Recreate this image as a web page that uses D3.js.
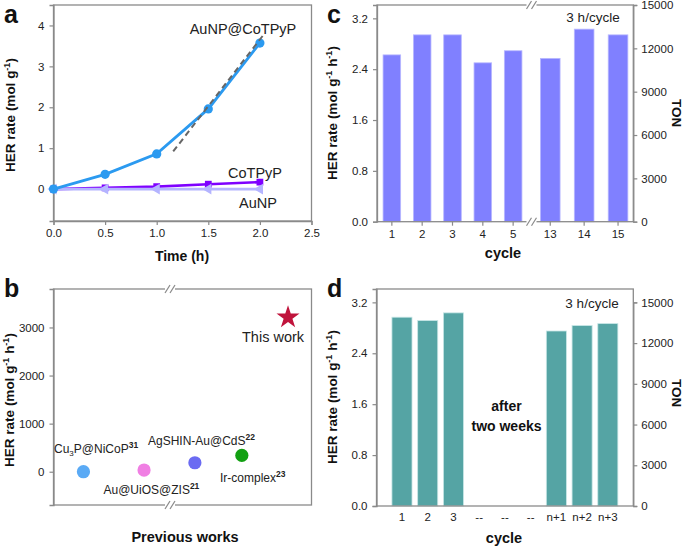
<!DOCTYPE html>
<html><head><meta charset="utf-8">
<script src="https://cdn.jsdelivr.net/npm/d3@7"></script>
<style>
body{margin:0;background:#fff}
svg{display:block}
text{font-family:"Liberation Sans",Arial,Helvetica,sans-serif}
</style>
</head><body>
<svg id="chart" width="685" height="546"></svg>
<script>
// ---------- DATA ----------
// Panel a
const timeH = [0, 0.5, 1.0, 1.5, 2.0];
const rateAuNPCoTPyP = [0, 0.36, 0.86, 1.96, 3.57];
const rateCoTPyP = [0, 0.03, 0.06, 0.12, 0.17];
const rateAuNP = [0, 0, 0, 0, 0];
const fitTime = [1.16, 2.05];
const fitRate = [0.92, 3.82];
const aTicksX = [0, 0.5, 1.0, 1.5, 2.0, 2.5];
const aTicksY = [0, 1, 2, 3, 4];
// Panel b
const worksNames = ["Cu3P@NiCoP", "Au@UiOS@ZIS", "AgSHIN-Au@CdS", "Ir-complex"];
const worksRefs = ["31", "21", "22", "23"];
const worksPos = [0.116, 0.351, 0.548, 0.730];
const worksRate = [0, 35, 187, 340];
const worksColors = ["#5aaaf5", "#f07fe3", "#6b6bf2", "#12a012"];
const thisWorkPos = 0.909;
const thisWorkRate = 3210;
const bTicksY = [0, 1000, 2000, 3000];
// Panel c
const cyclesC1 = ["1", "2", "3", "4", "5"];
const rateC1 = [2.625, 2.94, 2.94, 2.50, 2.69];
const cyclesC2 = ["13", "14", "15"];
const rateC2 = [2.57, 3.03, 2.94];
// Panel d
const cyclesD = ["1", "2", "3", "--", "--", "--", "n+1", "n+2", "n+3"];
const rateD = [2.967, 2.914, 3.035, null, null, null, 2.75, 2.835, 2.866];
// shared ticks
const rateTicks = [0, 0.8, 1.6, 2.4, 3.2];
const tonTicks = [0, 3000, 6000, 9000, 12000, 15000];

// ---------- HELPERS ----------
const svg = d3.select("#chart");
const AX = "#8a8a8a", TXT = "#222";

function styleAxis(g) {
  g.selectAll("path.domain").attr("stroke", AX).attr("stroke-width", 1.3);
  g.selectAll(".tick line").attr("stroke", AX).attr("stroke-width", 1.2);
  g.selectAll(".tick text").attr("fill", TXT).attr("font-size", 11.5)
    .attr("font-family", "Liberation Sans, Arial, sans-serif");
}
function frame(x0, y0, x1, y1) {
  svg.append("rect").attr("x", x0).attr("y", y0).attr("width", x1 - x0).attr("height", y1 - y0)
    .attr("fill", "none").attr("stroke", AX).attr("stroke-width", 1.3);
}
function breakMark(x, y) {
  svg.append("rect").attr("x", x - 5).attr("y", y - 2).attr("width", 10).attr("height", 4).attr("fill", "#fff");
  [-2.5, 2.5].forEach(o => {
    svg.append("line").attr("x1", x + o - 2.5).attr("y1", y + 4).attr("x2", x + o + 2.5).attr("y2", y - 4)
      .attr("stroke", AX).attr("stroke-width", 1.2);
  });
}
function panelLetter(t, x, y) {
  svg.append("text").attr("x", x).attr("y", y).attr("font-size", 25).attr("font-weight", "bold")
    .attr("fill", "#111").text(t);
}
function yLabel(x, y, withH) {
  const t = svg.append("text").attr("transform", `translate(${x},${y}) rotate(-90)`)
    .attr("text-anchor", "middle").attr("font-size", 13.5).attr("font-weight", "bold").attr("fill", "#111");
  t.append("tspan").text("HER rate (mol g");
  t.append("tspan").attr("dy", -5).attr("font-size", 9).text("-1");
  if (withH) {
    t.append("tspan").attr("dy", 5).text(" h");
    t.append("tspan").attr("dy", -5).attr("font-size", 9).text("-1");
  }
  t.append("tspan").attr("dy", 5).text(")");
}
function tonLabel(x, y) {
  svg.append("text").attr("transform", `translate(${x},${y}) rotate(90)`)
    .attr("text-anchor", "middle").attr("font-size", 13.5).attr("font-weight", "bold").attr("fill", "#111").text("TON");
}
function xTitle(t, x, y, fs) {
  svg.append("text").attr("x", x).attr("y", y).attr("text-anchor", "middle")
    .attr("font-size", fs || 14).attr("font-weight", "bold").attr("fill", "#111").text(t);
}
function note(t, x, y, fs, anchor) {
  return svg.append("text").attr("x", x).attr("y", y).attr("text-anchor", anchor || "middle")
    .attr("font-size", fs || 13).attr("fill", TXT).text(t);
}

// ---------- PANEL A ----------
{
  const L = 53.5, R = 311.5, T = 5, B = 221;
  const x = d3.scaleLinear().domain([0, 2.5]).range([L, R]);
  const y = d3.scaleLinear().domain([-0.78, 4.5]).range([B, T]);
  frame(L, T, R, B);
  const gx = svg.append("g").attr("transform", `translate(0,${B})`)
    .call(d3.axisBottom(x).tickValues(aTicksX).tickFormat(d3.format(".1f")).tickSize(4).tickPadding(4));
  styleAxis(gx);
  const gy = svg.append("g").attr("transform", `translate(${L},0)`)
    .call(d3.axisLeft(y).tickValues(aTicksY).tickFormat(d3.format("d")).tickSize(4).tickPadding(5));
  styleAxis(gy);

  const line = d3.line().x(d => x(d[0])).y(d => y(d[1]));
  const sAu = timeH.map((t, i) => [t, rateAuNP[i]]);
  const sCo = timeH.map((t, i) => [t, rateCoTPyP[i]]);
  const sAC = timeH.map((t, i) => [t, rateAuNPCoTPyP[i]]);

  svg.append("path").datum(sCo).attr("d", line).attr("fill", "none").attr("stroke", "#7f00ff").attr("stroke-width", 2.6);
  svg.selectAll(".sq").data(sCo).join("path").attr("class", "sq")
    .attr("transform", d => `translate(${x(d[0])},${y(d[1])})`)
    .attr("d", d3.symbol(d3.symbolSquare, 46)).attr("fill", "#7f00ff");

  svg.append("path").datum(sAu).attr("d", line).attr("fill", "none").attr("stroke", "#b4b4ff").attr("stroke-width", 2.6);
  svg.selectAll(".tri").data(sAu).join("path").attr("class", "tri")
    .attr("transform", d => `translate(${x(d[0])},${y(d[1])}) rotate(-90)`)
    .attr("d", d3.symbol(d3.symbolTriangle, 50)).attr("fill", "#b4b4ff");

  svg.append("path").datum(sAC).attr("d", line).attr("fill", "none").attr("stroke", "#2b9af0").attr("stroke-width", 2.8);
  svg.selectAll(".ci").data(sAC).join("circle").attr("class", "ci")
    .attr("cx", d => x(d[0])).attr("cy", d => y(d[1])).attr("r", 4.6).attr("fill", "#2b9af0");

  svg.append("line").attr("x1", x(fitTime[0])).attr("y1", y(fitRate[0]))
    .attr("x2", x(fitTime[1])).attr("y2", y(fitRate[1]))
    .attr("stroke", "#666").attr("stroke-width", 2).attr("stroke-dasharray", "6,4");

  note("AuNP@CoTPyP", 243, 34, 14.5);
  note("CoTPyP", 255, 178, 14.5);
  note("AuNP", 258, 208, 14.5);
  xTitle("Time (h)", 182, 261, 14);
  yLabel(15, 115, false);
  panelLetter("a", 4, 23);
}

// ---------- PANEL B ----------
{
  const L = 53.5, R = 311.5, T = 289, B = 505;
  const x = d3.scaleLinear().domain([0, 1]).range([L, R]);
  const y = d3.scaleLinear().domain([-692, 3800]).range([B, T]);
  frame(L, T, R, B);
  const gy = svg.append("g").attr("transform", `translate(${L},0)`)
    .call(d3.axisLeft(y).tickValues(bTicksY).tickFormat(d3.format("d")).tickSize(4).tickPadding(5));
  styleAxis(gy);
  breakMark(170, T);
  breakMark(170, B);

  svg.selectAll(".pw").data(worksRate).join("circle").attr("class", "pw")
    .attr("cx", (d, i) => x(worksPos[i])).attr("cy", d => y(d)).attr("r", 6.6)
    .attr("fill", (d, i) => worksColors[i]);
  svg.append("path").attr("transform", `translate(${x(thisWorkPos)},${y(thisWorkRate)})`)
    .attr("d", d3.symbol(d3.symbolStar, 165)).attr("fill", "#c0143c");

  const labPos = [[54, 453], [103.5, 494], [148, 445], [220, 481.5]];
  worksNames.forEach((n, i) => {
    const t = svg.append("text").attr("x", labPos[i][0]).attr("y", labPos[i][1])
      .attr("font-size", 12).attr("fill", TXT);
    if (n === "Cu3P@NiCoP") {
      t.append("tspan").text("Cu");
      t.append("tspan").attr("dy", 3).attr("font-size", 8).text("3");
      t.append("tspan").attr("dy", -3).text("P@NiCoP");
    } else {
      t.append("tspan").text(n);
    }
    t.append("tspan").attr("dy", -5).attr("font-size", 8.5).attr("font-weight", "bold").text(worksRefs[i]);
  });
  note("This work", 242, 342, 14.5, "start");
  xTitle("Previous works", 185, 542, 14.5);
  yLabel(13.5, 400, true);
  panelLetter("b", 4, 297);
}

// ---------- PANEL C ----------
{
  const L = 377, R = 633.3, T = 5, B = 221.7;
  const yL = d3.scaleLinear().domain([0, 3.41]).range([B, T]);
  const yR = d3.scaleLinear().domain([0, 15000]).range([B, T]);
  const x1 = d3.scaleBand().domain(cyclesC1).range([L, 528]).paddingInner(0.42).paddingOuter(0.2);
  const x2 = d3.scaleBand().domain(cyclesC2).range([535, R]).paddingInner(0.42).paddingOuter(0.16);
  svg.selectAll(".bc1").data(rateC1).join("rect").attr("class", "bc1")
    .attr("x", (d, i) => x1(cyclesC1[i])).attr("width", x1.bandwidth())
    .attr("y", d => yL(d)).attr("height", d => B - yL(d))
    .attr("fill", "#8080ff").attr("stroke", "#b8b8ff").attr("stroke-width", 0.8);
  svg.selectAll(".bc2").data(rateC2).join("rect").attr("class", "bc2")
    .attr("x", (d, i) => x2(cyclesC2[i])).attr("width", x2.bandwidth())
    .attr("y", d => yL(d)).attr("height", d => B - yL(d))
    .attr("fill", "#8080ff").attr("stroke", "#b8b8ff").attr("stroke-width", 0.8);
  frame(L, T, R, B);
  const gx1 = svg.append("g").attr("transform", `translate(0,${B})`)
    .call(d3.axisBottom(x1).tickSize(4).tickPadding(4).tickSizeOuter(0));
  gx1.select("path.domain").remove();
  styleAxis(gx1);
  const gx2 = svg.append("g").attr("transform", `translate(0,${B})`)
    .call(d3.axisBottom(x2).tickSize(4).tickPadding(4).tickSizeOuter(0));
  gx2.select("path.domain").remove();
  styleAxis(gx2);
  const gy = svg.append("g").attr("transform", `translate(${L},0)`)
    .call(d3.axisLeft(yL).tickValues(rateTicks).tickFormat(d3.format(".1f")).tickSize(4).tickPadding(5));
  styleAxis(gy);
  const gr = svg.append("g").attr("transform", `translate(${R},0)`)
    .call(d3.axisRight(yR).tickValues(tonTicks).tickFormat(d3.format("d")).tickSize(4).tickPadding(4));
  styleAxis(gr);
  breakMark(531.5, T);
  breakMark(531.5, B);
  note("3 h/cycle", 593, 22, 13.5);
  xTitle("cycle", 503, 258, 14.5);
  tonLabel(672, 113);
  yLabel(337, 113, true);
  panelLetter("c", 327, 23);
}

// ---------- PANEL D ----------
{
  const L = 376.5, R = 633.3, T = 289, B = 506;
  const yL = d3.scaleLinear().domain([0, 3.41]).range([B, T]);
  const yR = d3.scaleLinear().domain([0, 15000]).range([B, yL(3.2)]);
  const idx = d3.range(cyclesD.length);
  const x = d3.scaleBand().domain(idx).range([L, R]).paddingInner(0.22).paddingOuter(0.6);
  const bars = idx.filter(i => rateD[i] !== null);
  svg.selectAll(".bd").data(bars).join("rect").attr("class", "bd")
    .attr("x", i => x(i)).attr("width", x.bandwidth())
    .attr("y", i => yL(rateD[i])).attr("height", i => B - yL(rateD[i]))
    .attr("fill", "#55a4a4").attr("stroke", "#c8e6e6").attr("stroke-width", 0.8);
  frame(L, T, R, B);
  const gx = svg.append("g").attr("transform", `translate(0,${B})`)
    .call(d3.axisBottom(x).tickFormat(i => cyclesD[i]).tickSize(0).tickPadding(7));
  gx.select("path.domain").remove();
  styleAxis(gx);
  const gy = svg.append("g").attr("transform", `translate(${L},0)`)
    .call(d3.axisLeft(yL).tickValues(rateTicks).tickFormat(d3.format(".1f")).tickSize(4).tickPadding(5));
  styleAxis(gy);
  const gr = svg.append("g").attr("transform", `translate(${R},0)`)
    .call(d3.axisRight(yR).tickValues(tonTicks).tickFormat(d3.format("d")).tickSize(4).tickPadding(4));
  styleAxis(gr);
  note("3 h/cycle", 592, 308, 13.5);
  const aw = svg.append("text").attr("text-anchor", "middle").attr("font-size", 14)
    .attr("font-weight", "bold").attr("fill", "#111");
  aw.append("tspan").attr("x", 506.5).attr("y", 411).text("after");
  aw.append("tspan").attr("x", 506.5).attr("y", 431).text("two weeks");
  xTitle("cycle", 504, 543, 14.5);
  tonLabel(672, 393);
  yLabel(337, 397, true);
  panelLetter("d", 327, 297);
}
</script>
</body></html>
